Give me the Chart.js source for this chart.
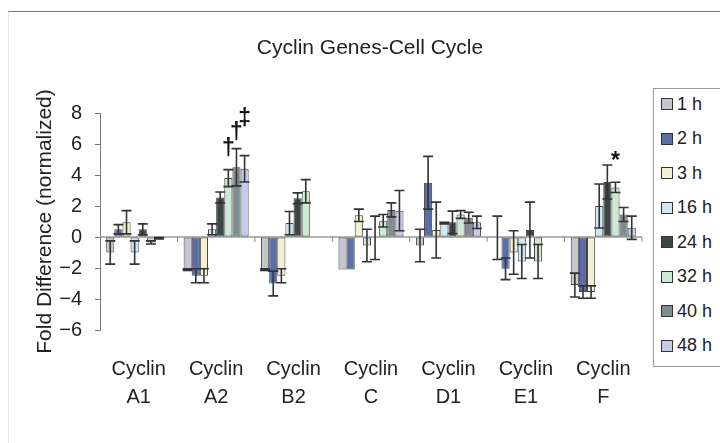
<!DOCTYPE html>
<html>
<head>
<meta charset="utf-8">
<script src="https://cdn.jsdelivr.net/npm/chart.js@4.4.0/dist/chart.umd.min.js"></script>
<style>
  html, body { margin: 0; padding: 0; background: #fff; }
  #wrap { position: relative; width: 720px; height: 443px; overflow: hidden; font-family: "Liberation Sans", Arial, sans-serif; }
  #frame { position: absolute; left: 8px; top: 11px; width: 720px; height: 440px; border-top: 1px solid #777; border-left: 1px solid #e2e2e2; pointer-events: none; }
  #legend { position: absolute; left: 653px; top: 88px; width: 80px; height: 277px; border: 1px solid #999; background: #fff; }
  #legend .items { margin-top: -2px; }
  #legend .item { height: 34.5px; display: flex; align-items: center; padding-left: 7px; font-size: 18px; color: #222; }
  #legend .sw { width: 10px; height: 10px; border: 1.5px solid #333; margin-right: 4px; }
</style>
</head>
<body>
<div id="wrap">
  <canvas id="chart" width="720" height="443"></canvas>
  <div id="frame"></div>
  <div id="legend"><div class="items" id="legendItems"></div></div>
</div>
<script>
// ─── DATA ────────────────────────────────────────────────────────────────
const chartTitle = "Cyclin Genes-Cell Cycle";
const categories = [
  ["Cyclin", "A1"], ["Cyclin", "A2"], ["Cyclin", "B2"], ["Cyclin", "C"],
  ["Cyclin", "D1"], ["Cyclin", "E1"], ["Cyclin", "F"]
];
const seriesLabels = ["1 h", "2 h", "3 h", "16 h", "24 h", "32 h", "40 h", "48 h"];
const seriesColors = [
  "#c3c7cc", "#5b6ea8", "#f4f1d2", "#cfe8f2",
  "#3d4747", "#cde8d4", "#808b92", "#c5cbe8"
];

// fold difference per time point, order: A1, A2, B2, C, D1, E1, F
const values1h  = [-1.0, -2.1, -2.1, -2.1, -0.55, -0.05, -3.1];
const values2h  = [0.5, -2.5, -3.0, -2.1, 3.5, -2.05, -3.55];
const values3h  = [0.95, -2.5, -2.5, 1.4, 0.45, -1.0, -3.55];
const values16h = [-1.0, 0.5, 0.9, -0.55, 0.9, -1.58, 2.0];
const values24h = [0.5, 2.55, 2.5, -0.05, 0.95, 0.45, 3.55];
const values32h = [-0.35, 3.8, 2.95, 1.05, 1.45, -1.58, 3.2];
const values40h = [-0.08, 4.5, null, 1.75, 1.25, null, 1.45];
const values48h = [-0.03, 4.4, null, 1.7, 0.95, null, 0.6];

// error bar half-lengths
const err1h  = [0.75, 0.05, 0.05, 0, 1.05, 1.4, 0.77];
const err2h  = [0.3, 0.45, 0.8, 0, 1.7, 0.7, 0.4];
const err3h  = [0.75, 0.45, 0.45, 0.4, 1.8, 1.4, 0.4];
const err16h = [0.75, 0.35, 0.75, 1.05, 0.05, 1.1, 1.42];
const err24h = [0.35, 0.35, 0.35, 1.4, 0.72, 1.8, 1.1];
const err32h = [0.1, 0.55, 0.75, 0.4, 0.25, 1.1, 0.33];
const err40h = [0.05, 1.2, null, 0.45, 0.35, null, 0.45];
const err48h = [0, 0.85, null, 1.3, 0.4, null, 0.75];

const yTicksMin = -6;
const yTicksMax = 8;
const yTickStep = 2;

// significance marks: category index, series index, symbol, height in data units
const markCategory = [1, 1, 1, 6];
const markSeries   = [5, 6, 7, 5];
const markSymbol   = ["†", "†", "‡", "*"];
const markAt       = [5.72, 6.76, 7.61, 5.1];

const allValues = [values1h, values2h, values3h, values16h, values24h, values32h, values40h, values48h];
const allErrors = [err1h, err2h, err3h, err16h, err24h, err32h, err40h, err48h];

const FONT = "'Liberation Sans', Arial, sans-serif";
const TEXT = "#222";

// ─── LEGEND (html) ───────────────────────────────────────────────────────
const legendEl = document.getElementById("legendItems");
seriesLabels.forEach((lab, i) => {
  const item = document.createElement("div");
  item.className = "item";
  item.innerHTML = `<span class="sw" style="background:${seriesColors[i]}"></span><span>${lab}</span>`;
  legendEl.appendChild(item);
});

// ─── PLUGINS ─────────────────────────────────────────────────────────────
const titlePlugin = {
  id: "plotTitle",
  afterDraw(chart) {
    const { ctx } = chart;
    ctx.save();
    ctx.fillStyle = TEXT;
    ctx.font = "21px " + FONT;
    ctx.textAlign = "center";
    ctx.textBaseline = "middle";
    ctx.fillText(chartTitle, 370, 48);
    ctx.restore();
  }
};

const zeroAxisPlugin = {
  id: "zeroAxis",
  beforeDatasetsDraw(chart) {
    const { ctx, chartArea, scales } = chart;
    const y0 = scales.y.getPixelForValue(0);
    ctx.save();
    ctx.strokeStyle = "#999";
    ctx.lineWidth = 1.5;
    ctx.beginPath();
    ctx.moveTo(chartArea.left, y0);
    ctx.lineTo(chartArea.right, y0);
    ctx.stroke();
    // category separators below the zero line
    ctx.lineWidth = 1;
    ctx.strokeStyle = "#888";
    const n = categories.length;
    for (let i = 1; i <= n; i++) {
      const x = chartArea.left + (chartArea.right - chartArea.left) * i / n;
      ctx.beginPath();
      ctx.moveTo(x, y0);
      ctx.lineTo(x, y0 + 5);
      ctx.stroke();
    }
    ctx.restore();
  }
};

const errorBarPlugin = {
  id: "errorBars",
  afterDatasetsDraw(chart) {
    const { ctx, scales } = chart;
    ctx.save();
    ctx.strokeStyle = "#333";
    ctx.lineWidth = 1.6;
    allValues.forEach((vals, di) => {
      const meta = chart.getDatasetMeta(di);
      vals.forEach((v, ci) => {
        const e = allErrors[di][ci];
        if (v === null || e === null || e === 0) return;
        const bar = meta.data[ci];
        const x = bar.x;
        const hw = 5;
        const yTop = scales.y.getPixelForValue(v + e);
        const yBot = scales.y.getPixelForValue(v - e);
        ctx.beginPath();
        ctx.moveTo(x, yTop); ctx.lineTo(x, yBot);
        ctx.moveTo(x - hw, yTop); ctx.lineTo(x + hw, yTop);
        ctx.moveTo(x - hw, yBot); ctx.lineTo(x + hw, yBot);
        ctx.stroke();
      });
    });
    ctx.restore();
  }
};

const marksPlugin = {
  id: "marks",
  afterDatasetsDraw(chart) {
    const { ctx, scales } = chart;
    ctx.save();
    ctx.fillStyle = "#111";
    ctx.textAlign = "center";
    ctx.textBaseline = "middle";
    markSymbol.forEach((sym, k) => {
      const bar = chart.getDatasetMeta(markSeries[k]).data[markCategory[k]];
      const y = scales.y.getPixelForValue(markAt[k]);
      ctx.font = "bold 23px " + FONT;
      ctx.fillText(sym, bar.x, sym === "*" ? y + 4 : y);
    });
    ctx.restore();
  }
};

// ─── CHART ───────────────────────────────────────────────────────────────
const datasets = seriesLabels.map((lab, i) => ({
  label: lab,
  data: allValues[i],
  backgroundColor: seriesColors[i],
  borderColor: "#444",
  borderWidth: 1,
  borderSkipped: false,
  categoryPercentage: 0.84,
  barPercentage: 1.0
}));

new Chart(document.getElementById("chart"), {
  type: "bar",
  data: { labels: categories, datasets },
  plugins: [zeroAxisPlugin, errorBarPlugin, marksPlugin, titlePlugin],
  options: {
    responsive: false,
    animation: false,
    layout: { padding: { left: 33, right: 78, top: 113, bottom: 7 } },
    plugins: {
      legend: { display: false },
      tooltip: { enabled: false },
      title: { display: false }
    },
    scales: {
      x: {
        grid: { display: false, drawTicks: false },
        border: { display: false },
        ticks: {
          color: TEXT,
          padding: 25,
          font: { family: FONT, size: 20, lineHeight: 1.4 },
          maxRotation: 0
        }
      },
      y: {
        min: yTicksMin,
        max: yTicksMax,
        afterFit: s => { s.width = 67; },
        grid: { drawOnChartArea: false, drawTicks: true, tickLength: 5, color: "#777" },
        border: { display: true, color: "#777", width: 1 },
        ticks: {
          stepSize: yTickStep,
          color: TEXT,
          padding: 13,
          font: { family: FONT, size: 20 },
          callback: v => String(v).replace("-", "\u2212")
        },
        title: {
          display: true,
          text: "Fold Difference (normalized)",
          color: TEXT,
          padding: 0,
          font: { family: FONT, size: 21 }
        }
      }
    }
  }
});
</script>
</body>
</html>
